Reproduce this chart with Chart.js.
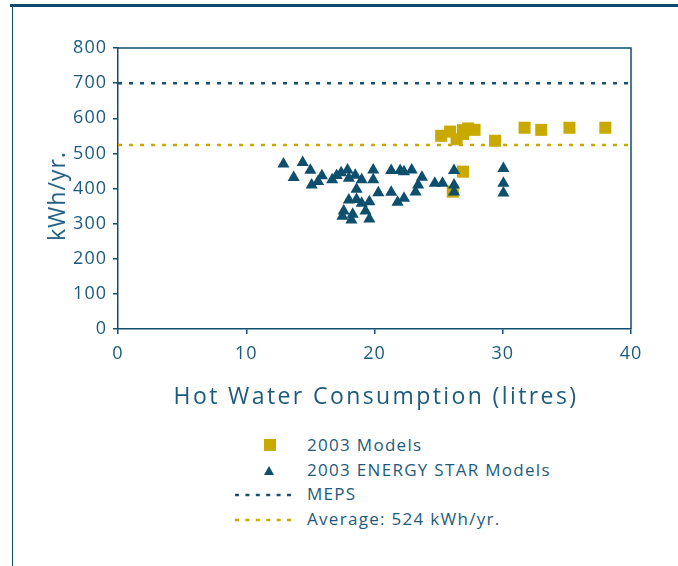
<!DOCTYPE html>
<html>
<head>
<meta charset="utf-8">
<script src="https://cdn.jsdelivr.net/npm/chart.js@4.4.0/dist/chart.umd.min.js"></script>
<style>
  body { margin: 0; background: #fff; font-family: "Open Sans", sans-serif; color: #1d5b7c; }
  #frameTop { position: absolute; left: 10px; top: 4px; width: 668px; height: 3px; background: #0f4a6b; }
  #frameLeft { position: absolute; left: 12px; top: 4px; width: 1px; height: 562px; background: #0f4a6b; }
  #wrap { position: absolute; left: 0; top: 0; width: 678px; height: 420px; }
  .axisTitle { position: absolute; font-size: 23px; white-space: nowrap; line-height: 28px;
               transform: translate(-50%, -50%); }
  #xTitle { left: 376px; top: 395px; letter-spacing: 2.4px; }
  #yTitle { left: 56px; top: 196px; letter-spacing: 1px; transform: translate(-50%, -50%) rotate(-90deg); }
  #legend { position: absolute; left: 235px; top: 433px; font-size: 17px; letter-spacing: 1.3px; }
  .row { position: relative; height: 24.5px; }
  .row svg { position: absolute; left: 0; top: 2px; }
  .row span { position: absolute; left: 72px; top: 0; line-height: 24px; white-space: nowrap; }
</style>
</head>
<body>
<div id="frameTop"></div>
<div id="frameLeft"></div>
<div id="wrap"><canvas id="scatter-chart"></canvas></div>
<div id="xTitle" class="axisTitle"></div>
<div id="yTitle" class="axisTitle"></div>
<div id="legend"></div>

<script>
// ===============================================================================
// Data
// ===============================================================================
var modelsX = [25.2, 25.9, 26.4, 26.9, 26.9, 27.3, 27.8, 29.4, 31.7, 33.0, 35.2, 38.0, 26.9, 26.1];
var modelsY = [550, 562, 540, 555, 566, 571, 567, 536, 573, 567, 573, 573, 448, 391];

var starX = [12.9, 14.4, 13.7, 15.0, 15.1, 15.6, 15.9, 16.7, 17.05, 17.4, 17.9, 18.0, 18.5, 19.0,
             19.9, 19.9, 21.3, 22.0, 22.3, 22.9, 18.6, 18.0, 18.6, 19.0, 19.6, 20.3, 21.3, 21.8,
             22.3, 17.6, 17.5, 18.3, 18.2, 19.3, 19.6, 23.7, 23.4, 23.2, 24.7, 25.3, 26.2, 26.2,
             26.2, 30.05, 30.05, 30.05];
var starY = [470, 474, 431, 452, 410, 420, 436, 425, 437, 445, 453, 429, 438, 425,
             453, 425, 451, 451, 448, 453, 398, 367, 369, 358, 362, 388, 389, 361,
             372, 336, 321, 327, 310, 336, 313, 432, 410, 390, 415, 415, 451, 410,
             390, 457, 415, 387];

var mepsLevel = 700;
var averageLevel = 524;
var xRange = [0, 40];

var seriesNames = ['2003 Models', '2003 ENERGY STAR Models', 'MEPS', 'Average: 524 kWh/yr.'];
var xTitle = 'Hot Water Consumption (litres)';
var yTitle = 'kWh/yr.';

var navy = '#0f4f6e';
var gold = '#c9a900';
var textBlue = '#1d5b7c';
var fontName = 'Open Sans';

function toPoints(xs, ys) {
  var pts = [];
  for (var i = 0; i < xs.length; i++) {
    pts.push({x: xs[i], y: ys[i]});
  }
  return pts;
}

// draws the top / right edges of the plot box, and spaces the tick digits a little
var boxPlugin = {
  id: 'plotBox',
  beforeDraw: function(chart) {
    chart.ctx.letterSpacing = '1px';
  },
  beforeDatasetsDraw: function(chart) {
    var a = chart.chartArea, ctx = chart.ctx;
    ctx.save();
    ctx.strokeStyle = navy;
    ctx.lineWidth = 1.5;
    ctx.beginPath();
    ctx.moveTo(a.left, a.top);
    ctx.lineTo(a.right, a.top);
    ctx.lineTo(a.right, a.bottom);
    ctx.stroke();
    ctx.restore();
  }
};

// ===============================================================================
// Chart
// ===============================================================================
function plotScatter() {
  var chartCanvas = document.getElementById('scatter-chart');

  var datasets = [{
      label: seriesNames[0], type: 'scatter', order: 1,
      data: toPoints(modelsX, modelsY),
      pointStyle: 'rect', pointRadius: 8.5, pointHoverRadius: 8.5,
      backgroundColor: gold, borderColor: gold, borderWidth: 0
    }, {
      label: seriesNames[1], type: 'scatter', order: 0,
      data: toPoints(starX, starY),
      pointStyle: 'triangle', pointRadius: 7, pointHoverRadius: 7,
      backgroundColor: navy, borderColor: navy, borderWidth: 0
    }, {
      label: seriesNames[2], type: 'line', order: 2,
      data: [{x: xRange[0], y: mepsLevel}, {x: xRange[1], y: mepsLevel}],
      borderColor: '#1a4f72', borderWidth: 2.5, borderDash: [4, 7], pointRadius: 0, fill: false
    }, {
      label: seriesNames[3], type: 'line', order: 3,
      data: [{x: xRange[0], y: averageLevel}, {x: xRange[1], y: averageLevel}],
      borderColor: gold, borderWidth: 2.5, borderDash: [4, 7], pointRadius: 0, fill: false
    }];

  new Chart(chartCanvas, {
    type: 'scatter',
    data: {datasets: datasets},
    plugins: [boxPlugin],
    options: {
      responsive: true,
      maintainAspectRatio: false,
      animation: false,
      layout: {padding: {left: 20, right: 47, top: 48, bottom: 0}},
      plugins: {legend: {display: false}, tooltip: {enabled: false}},
      scales: {
        x: {
          type: 'linear', min: xRange[0], max: xRange[1],
          afterFit: function(s) { s.height = 91; },
          ticks: {stepSize: 10, color: textBlue, padding: 9, font: {family: fontName, size: 18}},
          grid: {display: true, drawOnChartArea: false, tickLength: 5, color: navy, lineWidth: 1.5},
          border: {color: navy, width: 1.5}
        },
        y: {
          min: 0, max: 800,
          afterFit: function(s) { s.width = 98; },
          ticks: {stepSize: 100, color: textBlue, padding: 6, font: {family: fontName, size: 18}},
          grid: {display: true, drawOnChartArea: false, tickLength: 5, color: navy, lineWidth: 1.5},
          border: {color: navy, width: 1.5}
        }
      }
    }
  });
}

// ===============================================================================
// Axis titles and legend (HTML, around the chart)
// ===============================================================================
function buildLegend() {
  document.getElementById('xTitle').textContent = xTitle;
  document.getElementById('yTitle').textContent = yTitle;

  var markers = [
    '<rect x="29" y="4" width="12" height="12" fill="' + gold + '"/>',
    '<polygon points="29,15 39,15 34,6" fill="' + navy + '"/>',
    '<line x1="0" y1="11" x2="60" y2="11" stroke="#1a4f72" stroke-width="2.5" stroke-dasharray="4 6.4"/>',
    '<line x1="0" y1="11" x2="60" y2="11" stroke="' + gold + '" stroke-width="2.5" stroke-dasharray="4 6.4"/>'
  ];
  var html = '';
  for (var i = 0; i < seriesNames.length; i++) {
    html += '<div class="row"><svg width="62" height="22">' + markers[i] + '</svg><span>' + seriesNames[i] + '</span></div>';
  }
  document.getElementById('legend').innerHTML = html;
}

plotScatter();
buildLegend();
</script>
</body>
</html>
